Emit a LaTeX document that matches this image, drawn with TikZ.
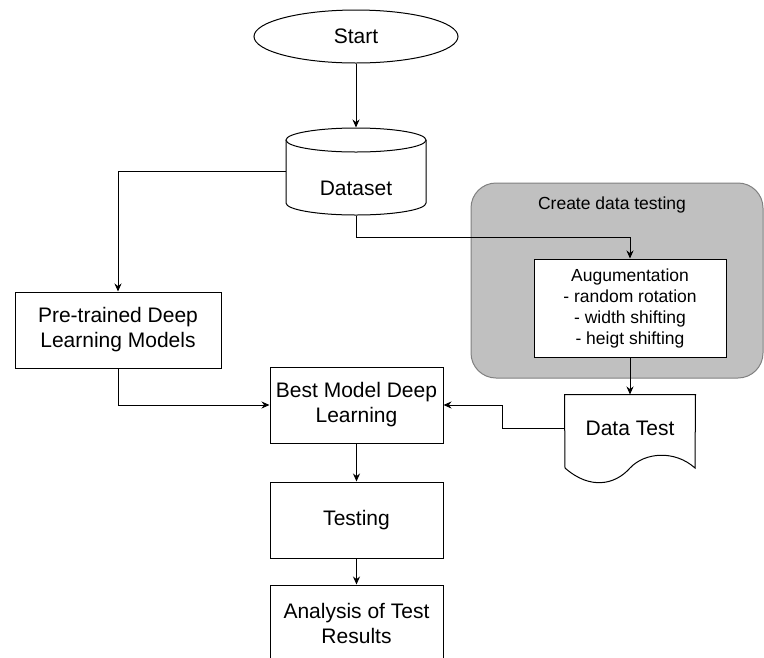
\documentclass[tikz,border=0pt]{standalone}
\usepackage{fontspec}
\setmainfont{Liberation Sans}
\usetikzlibrary{arrows.meta,shapes.geometric}

\definecolor{groupfill}{RGB}{192,192,192}
\definecolor{groupline}{RGB}{128,128,128}

\begin{document}
\begin{tikzpicture}[
		x=1pt, y=-1pt, line width=1pt,
		every node/.style={font=\fontsize{21}{25}\selectfont, align=center, inner sep=0pt},
		small/.style={font=\fontsize{17.5}{21}\selectfont},
		box/.style={draw, fill=white, minimum width=173pt, minimum height=76pt},
		arr/.style={-{Stealth[length=8pt,width=7pt]}}
	]
		\clip (0,0) rectangle (764,657);
		\node[ellipse, draw, minimum width=204pt, minimum height=53pt] (start) at (356,36.5) {Start};

		\node[minimum width=140pt, minimum height=87pt] (data) at (356,171.5) {};
		\draw[fill=white] (286,140) -- (286,203)
			arc[start angle=180, end angle=360, x radius=70pt, y radius=12pt] -- (426,140);
		\draw[fill=white] (356,140) ellipse[x radius=70pt, y radius=12pt];
		\node (datatext) at (356,188) {Dataset};

		\draw[groupline, fill=groupfill, rounded corners=25pt] (471,183) rectangle (763,378);
		\node[small] (grouptitle) at (612,205) {Create data testing};
		\node[box, small, minimum width=192pt, minimum height=98pt] (aug) at (630,308)
			{Augumentation\\- random rotation\\- width shifting\\- heigt shifting};

		\node[minimum width=130pt, minimum height=66pt] (dtest) at (630,428) {};
		\draw[fill=white] (dtest.north west) -- (dtest.north east) -- (695,468)
			.. controls (675,450) and (645,452) .. (630,468)
			.. controls (615,485) and (590,490) .. (565,468) -- cycle;
		\node (dtesttext) at (dtest) {Data Test};

		\node[box, minimum width=206pt] (pre) at (118,330) {Pre-trained Deep\\Learning Models};
		\node[box] (best) at (356.5,405) {Best Model Deep\\Learning};
		\node[box] (test) at (356.5,520) {Testing};
		\node[box] (anal) at (356.5,623) {Analysis of Test\\Results};

		\draw[arr] (start) -- (data.north);
		\draw[arr] (data.west) -| (pre.north);
		\draw[arr] (data.south) -- ++(0,22) -| (aug.north);
		\draw[arr] (aug) -- (dtest);
		\draw[arr] (dtest.west) -- ++(-62,0) |- (best.east);
		\draw[arr] (pre.south) |- (best.west);
		\draw[arr] (best) -- (test);
		\draw[arr] (test) -- (anal);
	\end{tikzpicture}
\end{document}
